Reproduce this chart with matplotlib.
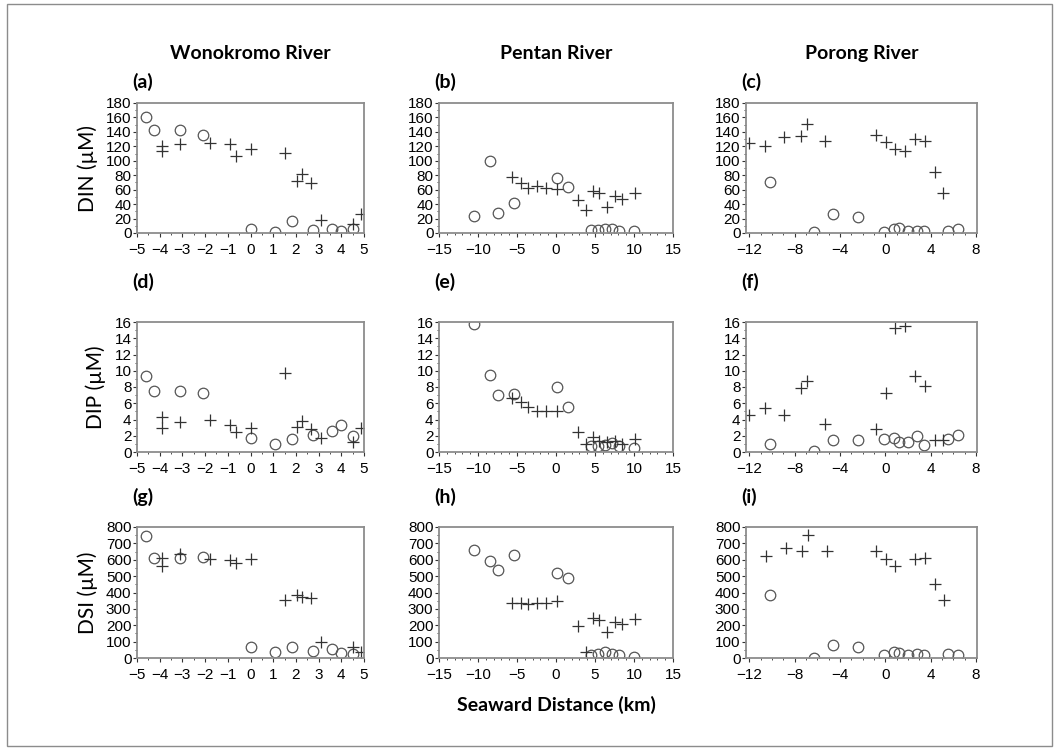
import matplotlib
matplotlib.use("Agg")
import matplotlib.pyplot as plt
from matplotlib.ticker import MultipleLocator
from matplotlib.patches import Rectangle

# --- data (x = seaward distance km) ---
# Wonokromo River
wono_circ_x = [-4.6, -4.25, -3.1, -2.08, 0.0, 1.1, 1.85, 2.75, 3.6, 4.0, 4.5]
wono_cross_x = [-3.9, -3.9, -3.1, -1.8, -0.9, -0.64, 0.0, 1.53, 2.03, 2.28, 2.67, 3.1, 4.5, 4.85]
wono_din_circ = [161, 142, 143, 136, 5, 2, 16, 4, 5, 3, 5]
wono_din_cross = [120, 113, 123, 124, 123, 107, 116, 111, 72, 82, 69, 18, 12, 27]
wono_dip_circ = [9.4, 7.45, 7.45, 7.3, 1.7, 1.0, 1.55, 2.1, 2.6, 3.3, 2.0]
wono_dip_cross = [4.3, 2.95, 3.7, 3.9, 3.3, 2.45, 2.95, 9.75, 3.1, 3.8, 2.8, 1.7, 1.2, 2.9]
wono_dsi_circ = [743, 610, 610, 617, 67, 37, 67, 43, 55, 30, 27]
wono_dsi_cross = [613, 560, 637, 607, 600, 582, 607, 356, 383, 372, 369, 98, 67, 37]

# Pentan River
pent_circ_x = [-10.5, -8.5, -7.4, -5.35, 0.1, 1.5, 4.5, 5.4, 6.3, 7.2, 8.1, 10.0]
pent_cross_x = [-5.6, -4.5, -3.6, -2.5, -1.3, 0.1, 2.85, 3.9, 4.75, 5.45, 6.5, 7.6, 8.45, 10.1]
pent_din_circ = [23.5, 100, 28, 42, 76.6, 64, 4, 4, 5, 5, 3, 3]
pent_din_cross = [78, 69, 62, 65, 62, 60.5, 45.7, 32, 58.6, 55.8, 36.4, 51, 46.6, 55]
pent_dip_circ = [15.7, 9.5, 7.0, 7.1, 8.0, 5.5, 0.75, 0.75, 0.9, 1.05, 0.8, 0.55]
pent_dip_cross = [6.6, 6.15, 5.5, 5.0, 5.0, 5.0, 2.45, 1.0, 1.9, 1.4, 1.2, 1.3, 1.0, 1.6]
pent_dsi_circ = [662, 592, 540, 627, 519, 491, 16, 27, 37, 27, 16, 6]
pent_dsi_cross = [336, 336, 328, 336, 336, 346, 193, 37, 247, 234, 159, 220, 206, 240]

# Porong River
poro_circ_x = [-10.2, -6.3, -4.6, -2.45, -0.1, 0.8, 1.2, 2.0, 2.8, 3.45, 5.5, 6.4]
poro_din_circ = [70.6, 2, 26.3, 21.7, 1.8, 5, 7.3, 3.2, 2.8, 2.8, 2.8, 5]
poro_dip_circ = [1.03, 0.15, 1.44, 1.44, 1.56, 1.73, 1.2, 1.23, 1.97, 0.9, 1.65, 2.05]
poro_dsi_circ = [383, 3, 82, 67, 16, 37, 33, 16, 27, 16, 22, 16]
poro_cross_x = [-12.0, -10.6, -8.93, -7.47, -6.87, -5.28, -0.8, 0.1, 0.9, 1.7, 2.6, 3.5, 4.4, 5.06]
poro_din_cross = [125, 120.5, 133, 135, 151, 128, 136, 125.6, 116, 114, 130, 128, 84, 56]
poro_dip_cross = [4.6, 5.4, 4.6, 7.9, 8.7, 3.5, 2.8, 7.3, 15.3, 15.5, 9.35, 8.1, 1.44, 1.44]
poro_dsi_cross_x = [-10.5, -8.8, -7.38, -6.84, -5.14, -0.81, 0.02, 0.83, 2.62, 3.5, 4.41, 5.2]
poro_dsi_cross = [621, 674, 653, 749, 653, 653, 607, 562, 607, 613, 450, 352]

rivers = ["Wonokromo River", "Pentan River", "Porong River"]
ylabels = ["DIN (\u00b5M)", "DIP (\u00b5M)", "DSI (\u00b5M)"]
letters = "abcdefghi"

plt.rcParams["font.family"] = ["Liberation Sans Narrow", "Liberation Sans", "DejaVu Sans"]
title_font = ["Lato", "DejaVu Sans"]

W, H = 1059, 749
fig = plt.figure(figsize=(W / 100, H / 100), dpi=100)
fig.patches.append(Rectangle((0.007, 0.004), 0.986, 0.991, transform=fig.transFigure,
                             fill=False, edgecolor="#8c8c8c", lw=1.0))

# panel boxes in pixels (left, right) and (top, bottom)
col_px = [(137, 364), (439, 673), (746, 977)]
row_px = [(103, 233), (322, 452), (527, 658)]
label_bottom = [91, 291, 506]

panels = [
    [(wono_circ_x, wono_din_circ, wono_cross_x, wono_din_cross),
     (pent_circ_x, pent_din_circ, pent_cross_x, pent_din_cross),
     (poro_circ_x, poro_din_circ, poro_cross_x, poro_din_cross)],
    [(wono_circ_x, wono_dip_circ, wono_cross_x, wono_dip_cross),
     (pent_circ_x, pent_dip_circ, pent_cross_x, pent_dip_cross),
     (poro_circ_x, poro_dip_circ, poro_cross_x, poro_dip_cross)],
    [(wono_circ_x, wono_dsi_circ, wono_cross_x, wono_dsi_cross),
     (pent_circ_x, pent_dsi_circ, pent_cross_x, pent_dsi_cross),
     (poro_circ_x, poro_dsi_circ, poro_dsi_cross_x, poro_dsi_cross)],
]
xlims = [(-5, 5), (-15, 15), (-12.3, 8.1)]
xmaj = [1, 5, 4]
xmin = [0.5, 1, 1]
ylims = [(0, 180), (0, 16), (0, 800)]
ymaj = [20, 2, 100]
ymin = [10, 1, 50]

for r in range(3):
    for c in range(3):
        x0, x1 = col_px[c]
        yt, yb = row_px[r]
        ax = fig.add_axes([x0 / W, 1 - yb / H, (x1 - x0) / W, (yb - yt) / H])
        cx, cy, px, py = panels[r][c]
        ax.plot(cx, cy, "o", ms=7.6, mfc="none", mec="#555555", mew=0.9)
        ax.plot(px, py, "+", ms=8, mec="#333333", mew=0.9)
        ax.set_xlim(*xlims[c])
        ax.set_ylim(*ylims[r])
        ax.xaxis.set_major_locator(MultipleLocator(xmaj[c]))
        ax.xaxis.set_minor_locator(MultipleLocator(xmin[c]))
        ax.yaxis.set_major_locator(MultipleLocator(ymaj[r]))
        ax.yaxis.set_minor_locator(MultipleLocator(ymin[r]))
        ax.tick_params(which="major", length=3, width=0.8, color="#333333",
                       labelsize=11)
        ax.tick_params(axis="x", which="major", pad=4)
        ax.tick_params(axis="y", which="major", pad=1)
        ax.tick_params(which="minor", length=1.5, width=0.6, color="#333333")
        for s in ax.spines.values():
            s.set_color("#8c8c8c")
            s.set_linewidth(1.3)
        if c == 0:
            ax.set_ylabel(ylabels[r], fontsize=15, family=title_font, labelpad=6)
        lb = (yt - label_bottom[r]) / (yb - yt)
        ax.text(-0.02, 1 + lb, "(%s)" % letters[r * 3 + c], transform=ax.transAxes,
                fontsize=14, fontweight="bold", family=title_font, va="bottom")
        if r == 0:
            ax.text(0.5, 1 + lb + 0.22, rivers[c], transform=ax.transAxes, ha="center",
                    va="bottom", fontsize=14, fontweight="bold", family=title_font)

fig.text(556 / W, 1 - 705 / H, "Seaward Distance (km)", ha="center", va="center",
         fontsize=14, fontweight="bold", family=title_font)

fig.savefig("out.png", dpi=100)
